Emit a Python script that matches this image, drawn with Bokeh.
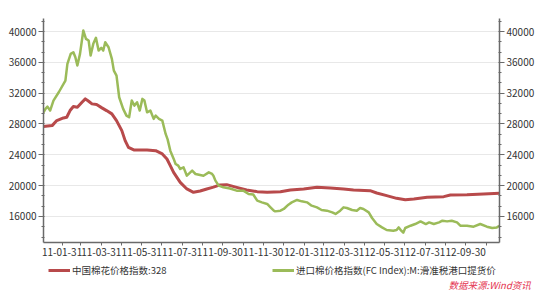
import pandas as pd
from bokeh.plotting import figure
from bokeh.layouts import column
from bokeh.models import (ColumnDataSource, Range1d, LinearAxis, SingleIntervalTicker,
                          FixedTicker, DatetimeTickFormatter, Legend, LegendItem, Label)
from bokeh.embed import file_html
from bokeh.resources import INLINE

# ---- data ----
cn_label = "中国棉花价格指数:328"
cn_dates = ["2011-01-03", "2011-01-16", "2011-01-23", "2011-02-02", "2011-02-07", "2011-02-12",
            "2011-02-17", "2011-02-23", "2011-03-02", "2011-03-07", "2011-03-12", "2011-03-17",
            "2011-03-24", "2011-04-01", "2011-04-08", "2011-04-16", "2011-04-23", "2011-05-01",
            "2011-05-06", "2011-05-11", "2011-05-19", "2011-06-08", "2011-06-21", "2011-07-01",
            "2011-07-08", "2011-07-13", "2011-07-18", "2011-07-28", "2011-08-07", "2011-08-17",
            "2011-08-27", "2011-09-06", "2011-09-16", "2011-09-26", "2011-10-06", "2011-10-21",
            "2011-11-05", "2011-11-21", "2011-12-06", "2011-12-26", "2012-01-10", "2012-01-30",
            "2012-02-19", "2012-03-10", "2012-03-30", "2012-04-14", "2012-05-09", "2012-05-19",
            "2012-06-03", "2012-06-18", "2012-07-01", "2012-07-14", "2012-08-03", "2012-08-28",
            "2012-09-07", "2012-10-02", "2012-10-27", "2012-11-20"]
cn_values = [27660, 27790, 28440, 28790, 28870, 29740,
             30260, 30170, 30820, 31260, 30950, 30610,
             30520, 30090, 29740, 29310, 28440, 27140,
             25840, 24970, 24630, 24630, 24540, 24110,
             23460, 22600, 21720, 20430, 19570, 19130,
             19300, 19570, 19800, 20090, 20130, 19780,
             19440, 19220, 19130, 19200, 19440, 19570,
             19780, 19700, 19570, 19440, 19350, 19040,
             18700, 18350, 18180, 18270, 18480, 18570,
             18790, 18830, 18920, 19000]

fc_label = "进口棉价格指数(FC Index):M:滑准税港口提货价"
fc_dates = ["2011-01-03", "2011-01-06", "2011-01-09", "2011-01-13", "2011-01-18", "2011-01-26",
            "2011-02-05", "2011-02-08", "2011-02-13", "2011-02-17", "2011-02-20", "2011-02-23",
            "2011-02-27", "2011-03-04", "2011-03-08", "2011-03-12", "2011-03-15", "2011-03-19",
            "2011-03-23", "2011-03-27", "2011-03-31", "2011-04-03", "2011-04-06", "2011-04-11",
            "2011-04-16", "2011-04-19", "2011-04-23", "2011-04-27", "2011-05-03", "2011-05-08",
            "2011-05-12", "2011-05-16", "2011-05-20", "2011-05-24", "2011-05-28", "2011-06-01",
            "2011-06-04", "2011-06-08", "2011-06-13", "2011-06-18", "2011-06-21", "2011-06-26",
            "2011-07-01", "2011-07-06", "2011-07-09", "2011-07-13", "2011-07-18", "2011-07-21",
            "2011-07-25", "2011-07-28", "2011-08-02", "2011-08-07", "2011-08-15", "2011-08-20",
            "2011-08-27", "2011-09-01", "2011-09-09", "2011-09-14", "2011-09-16", "2011-09-19",
            "2011-09-24", "2011-10-01", "2011-10-11", "2011-10-21", "2011-10-31", "2011-11-08",
            "2011-11-15", "2011-11-21", "2011-11-28", "2011-12-06", "2011-12-11", "2011-12-16",
            "2011-12-18", "2011-12-26", "2011-12-31", "2012-01-07", "2012-01-12", "2012-01-20",
            "2012-01-27", "2012-02-04", "2012-02-11", "2012-02-19", "2012-02-26", "2012-03-05",
            "2012-03-13", "2012-03-18", "2012-03-25", "2012-03-30", "2012-04-04", "2012-04-12",
            "2012-04-19", "2012-04-24", "2012-04-29", "2012-05-07", "2012-05-12", "2012-05-19",
            "2012-05-27", "2012-06-03", "2012-06-13", "2012-06-18", "2012-06-21", "2012-06-25",
            "2012-06-28", "2012-07-01", "2012-07-09", "2012-07-16", "2012-07-24", "2012-08-01",
            "2012-08-06", "2012-08-13", "2012-08-21", "2012-08-26", "2012-09-02", "2012-09-09",
            "2012-09-17", "2012-09-22", "2012-10-02", "2012-10-12", "2012-10-22", "2012-11-01",
            "2012-11-09", "2012-11-16", "2012-11-20"]
fc_values = [29500, 29960, 30260, 29740, 31040, 32120,
             33640, 35800, 37100, 37310, 36660, 35580,
             37100, 40130, 39050, 38830, 36880, 38400,
             39180, 37530, 37880, 37530, 38610, 37960,
             36450, 34930, 34280, 31470, 29960, 29090,
             28870, 31040, 30390, 30820, 29740, 31260,
             31040, 29520, 29740, 28660, 29090, 28660,
             28440, 26710, 26000, 24540, 23500, 22810,
             22590, 22160, 22370, 21290, 21940, 21510,
             21380, 21290, 21720, 21510, 21290, 20650,
             20000, 19780, 19620, 19350, 19350, 18920,
             18850, 18050, 17830, 17620, 17180, 16750,
             16660, 16750, 16970, 17530, 17830, 18140,
             17960, 17830, 17400, 17180, 16840, 16750,
             16530, 16320, 16750, 17180, 17100, 16840,
             16750, 17100, 16970, 16530, 15800, 15020,
             14580, 14240, 14150, 14240, 14580, 14150,
             13890, 14500, 14800, 15020, 15360, 15020,
             15230, 15020, 15230, 15450, 15360, 15450,
             15230, 14800, 14800, 14670, 15020, 14670,
             14500, 14580, 14800]

x_tick_labels = ["11-01-31", "11-03-31", "11-05-31", "11-07-31", "11-09-30", "11-11-30",
                 "12-01-31", "12-03-31", "12-05-31", "12-07-31", "12-09-30"]
x_minor_dates = ["2011-02-28", "2011-04-30", "2011-06-30", "2011-08-31", "2011-10-31",
                 "2011-12-31", "2012-02-29", "2012-04-30", "2012-06-30", "2012-08-31",
                 "2012-10-31"]
y_tick_step = 4000
source_text = "数据来源:Wind资讯"

# ---- main chart ----
def ms(dates):
    return [pd.Timestamp(d).value / 1e6 for d in dates]

FONT = "Noto Sans CJK SC"
CN_COLOR = "#B84A4B"
FC_COLOR = "#9BBB59"

p = figure(width=550, height=262, output_backend="svg", toolbar_location=None,
           x_axis_type="datetime",
           x_range=Range1d(pd.Timestamp("2011-01-03"), pd.Timestamp("2012-11-20")),
           y_range=Range1d(12620, 41690),
           min_border_left=43, min_border_right=51, min_border_top=18, min_border_bottom=20)
p.outline_line_color = None
p.background_fill_color = "white"
p.border_fill_color = "white"
p.frame_align = False

cn_src = ColumnDataSource(dict(x=pd.to_datetime(cn_dates), y=cn_values))
fc_src = ColumnDataSource(dict(x=pd.to_datetime(fc_dates), y=fc_values))
p.line("x", "y", source=cn_src, line_color=CN_COLOR, line_width=3, line_join="round")
p.line("x", "y", source=fc_src, line_color=FC_COLOR, line_width=2.5, line_join="round")

xax = p.xaxis[0]
xax.ticker = FixedTicker(ticks=ms(["20" + l for l in x_tick_labels]),
                         minor_ticks=ms(x_minor_dates))
fmt = "%y-%m-%d"
xax.formatter = DatetimeTickFormatter(days=fmt, months=fmt, years=fmt, hours=fmt,
                                      minutes=fmt, seconds=fmt, milliseconds=fmt,
                                      microseconds=fmt, hourmin=fmt, minsec=fmt)
xax.major_tick_out = 3
xax.major_tick_in = 0
xax.minor_tick_out = 3
xax.minor_tick_in = 0

yax = p.yaxis[0]
yax.ticker = SingleIntervalTicker(interval=y_tick_step, num_minor_ticks=3)
rax = LinearAxis(ticker=SingleIntervalTicker(interval=y_tick_step, num_minor_ticks=3))
p.add_layout(rax, "right")

for ax in [xax, yax, rax]:
    ax.axis_line_color = "#6a6a6a"
    ax.axis_line_width = 1.5
    ax.major_tick_line_color = "#6a6a6a"
    ax.minor_tick_line_color = "#6a6a6a"
    ax.major_label_text_font = FONT
    ax.major_label_text_font_size = "10px"
    ax.major_label_text_color = "#333333"
    ax.major_label_standoff = 2
for ax in [yax, rax]:
    ax.major_tick_out = 5
    ax.major_tick_in = 0
    ax.minor_tick_out = 2
    ax.minor_tick_in = 1

p.xgrid.grid_line_color = None
p.ygrid.ticker = yax.ticker
p.ygrid.grid_line_color = "#e8e8e8"
p.ygrid.grid_line_width = 1

# ---- legend strip ----
q = figure(width=550, height=38, output_backend="svg", toolbar_location=None,
           x_axis_location=None, y_axis_location=None,
           x_range=Range1d(0, 1), y_range=Range1d(0, 1), min_border=0)
q.frame_align = False
q.outline_line_color = None
q.xgrid.grid_line_color = None
q.ygrid.grid_line_color = None
q.border_fill_color = "white"
q.background_fill_color = "white"
lr_cn = q.line("x", "y", source=cn_src, line_color=CN_COLOR, line_width=3)
lr_fc = q.line("x", "y", source=fc_src, line_color=FC_COLOR, line_width=3)

legend = Legend(items=[LegendItem(label=cn_label, renderers=[lr_cn]),
                       LegendItem(label=fc_label, renderers=[lr_fc])],
                orientation="horizontal", location=(48, 23),
                glyph_width=22, glyph_height=10, label_standoff=2, label_width=198,
                spacing=2, padding=0, margin=0, border_line_color=None,
                background_fill_alpha=0, label_text_font=FONT,
                label_text_font_size="9.5px", label_text_color="#333333")
q.add_layout(legend)
q.add_layout(Label(x=448, y=16, x_units="screen", y_units="screen", text=source_text,
                   text_font=FONT, text_font_size="9.5px", text_font_style="italic",
                   text_color="#E4334F", text_baseline="middle"))

open("out.html", "w").write(file_html(column(p, q, spacing=0), INLINE))
